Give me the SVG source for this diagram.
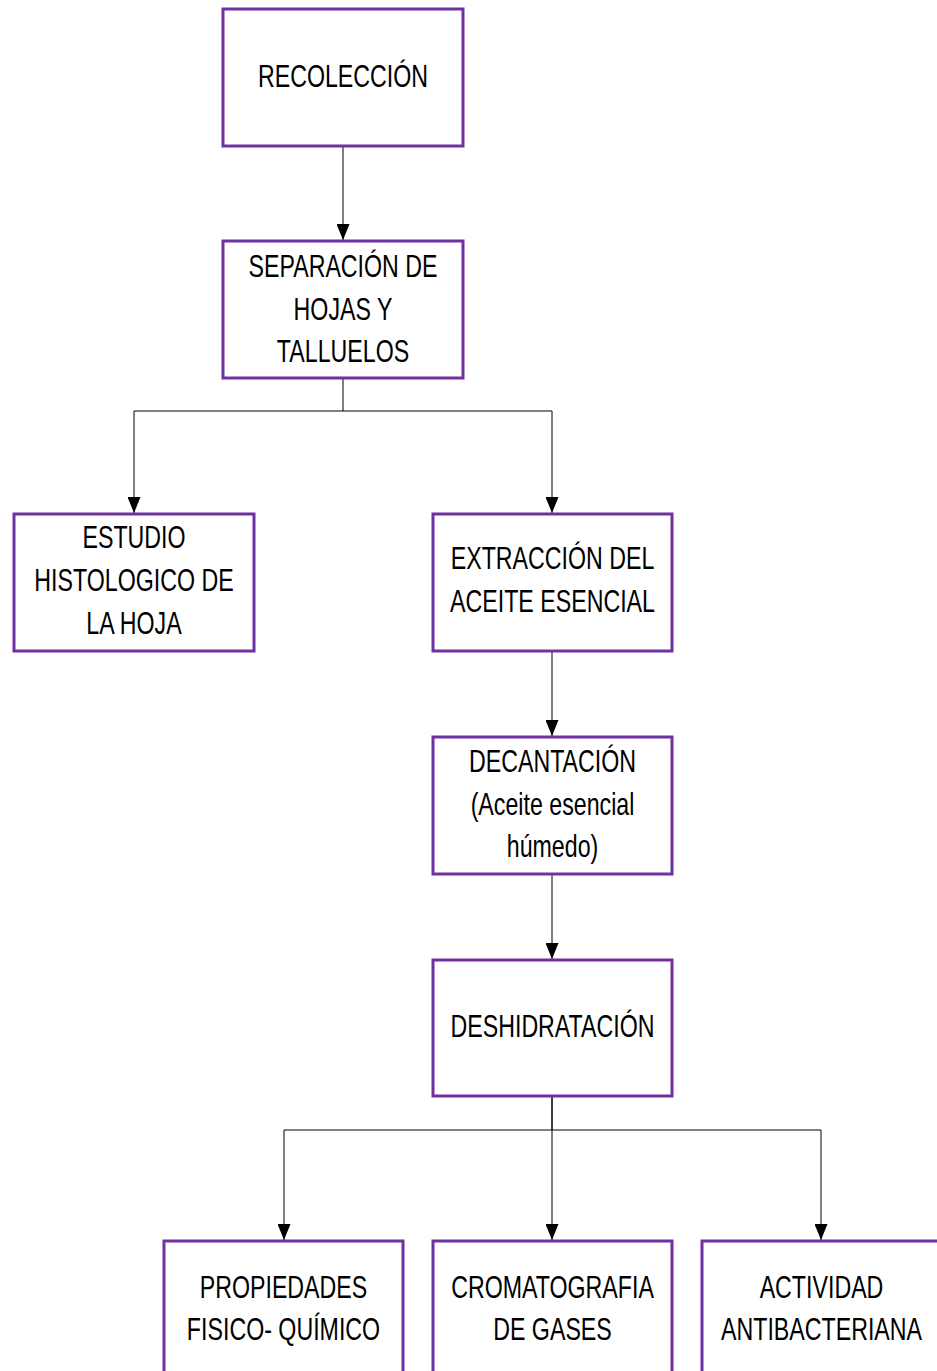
<svg xmlns="http://www.w3.org/2000/svg" width="937" height="1371" viewBox="0 0 937 1371">
<style>
.box{fill:#fff;stroke:#7030A0;stroke-width:3}
.t{font-family:"Liberation Sans",Arial,sans-serif;font-size:32px;fill:#000;text-anchor:middle}
.c{fill:none;stroke:#000;stroke-width:1}
</style>
<defs>
<marker id="ah" markerWidth="16" markerHeight="13" refX="16" refY="6.5" orient="auto" markerUnits="userSpaceOnUse" viewBox="0 0 16 13">
<path d="M0,0 L16,6.5 L0,13 Z" fill="#000"/>
</marker>
</defs>
<rect width="937" height="1371" fill="#fff"/>
<g id="connectors">
<path class="c" d="M343,146 V240" marker-end="url(#ah)"/>
<path class="c" d="M343,378 V411 H134 V513" marker-end="url(#ah)"/>
<path class="c" d="M343,411 H552 V513" marker-end="url(#ah)"/>
<path class="c" d="M552,651 V736" marker-end="url(#ah)"/>
<path class="c" d="M552,874 V959" marker-end="url(#ah)"/>
<path class="c" d="M552,1096 V1130 H284 V1240" marker-end="url(#ah)"/>
<path class="c" d="M552,1096 V1240" marker-end="url(#ah)"/>
<path class="c" d="M552,1130 H821 V1240" marker-end="url(#ah)"/>
</g>
<g id="recoleccion">
<rect class="box" x="223" y="9" width="240" height="137"/>
<text class="t" transform="translate(343 0) scale(0.725 1)" x="0" y="87">RECOLECCIÓN</text>
</g>
<g id="separacion">
<rect class="box" x="223" y="241" width="240" height="137"/>
<text class="t" transform="translate(343 0) scale(0.725 1)"><tspan x="0" y="277">SEPARACIÓN DE</tspan><tspan x="0" y="320">HOJAS Y</tspan><tspan x="0" y="362">TALLUELOS</tspan></text>
</g>
<g id="estudio">
<rect class="box" x="14" y="514" width="240" height="137"/>
<text class="t" transform="translate(134 0) scale(0.725 1)"><tspan x="0" y="548">ESTUDIO</tspan><tspan x="0" y="591">HISTOLOGICO DE</tspan><tspan x="0" y="634">LA HOJA</tspan></text>
</g>
<g id="extraccion">
<rect class="box" x="433" y="514" width="239" height="137"/>
<text class="t" transform="translate(552.5 0) scale(0.725 1)"><tspan x="0" y="569">EXTRACCIÓN DEL</tspan><tspan x="0" y="612">ACEITE ESENCIAL</tspan></text>
</g>
<g id="decantacion">
<rect class="box" x="433" y="737" width="239" height="137"/>
<text class="t" transform="translate(552.5 0) scale(0.725 1)"><tspan x="0" y="772">DECANTACIÓN</tspan><tspan x="0" y="815">(Aceite esencial</tspan><tspan x="0" y="857">húmedo)</tspan></text>
</g>
<g id="deshidratacion">
<rect class="box" x="433" y="960" width="239" height="136"/>
<text class="t" transform="translate(552.5 0) scale(0.725 1)" x="0" y="1037">DESHIDRATACIÓN</text>
</g>
<g id="propiedades">
<rect class="box" x="164" y="1241" width="239" height="137"/>
<text class="t" transform="translate(283.5 0) scale(0.725 1)"><tspan x="0" y="1298">PROPIEDADES</tspan><tspan x="0" y="1340">FISICO- QUÍMICO</tspan></text>
</g>
<g id="cromatografia">
<rect class="box" x="433" y="1241" width="239" height="137"/>
<text class="t" transform="translate(552.5 0) scale(0.725 1)"><tspan x="0" y="1298">CROMATOGRAFIA</tspan><tspan x="0" y="1340">DE GASES</tspan></text>
</g>
<g id="actividad">
<rect class="box" x="702" y="1241" width="239" height="137"/>
<text class="t" transform="translate(821.5 0) scale(0.725 1)"><tspan x="0" y="1298">ACTIVIDAD</tspan><tspan x="0" y="1340">ANTIBACTERIANA</tspan></text>
</g>
</svg>
